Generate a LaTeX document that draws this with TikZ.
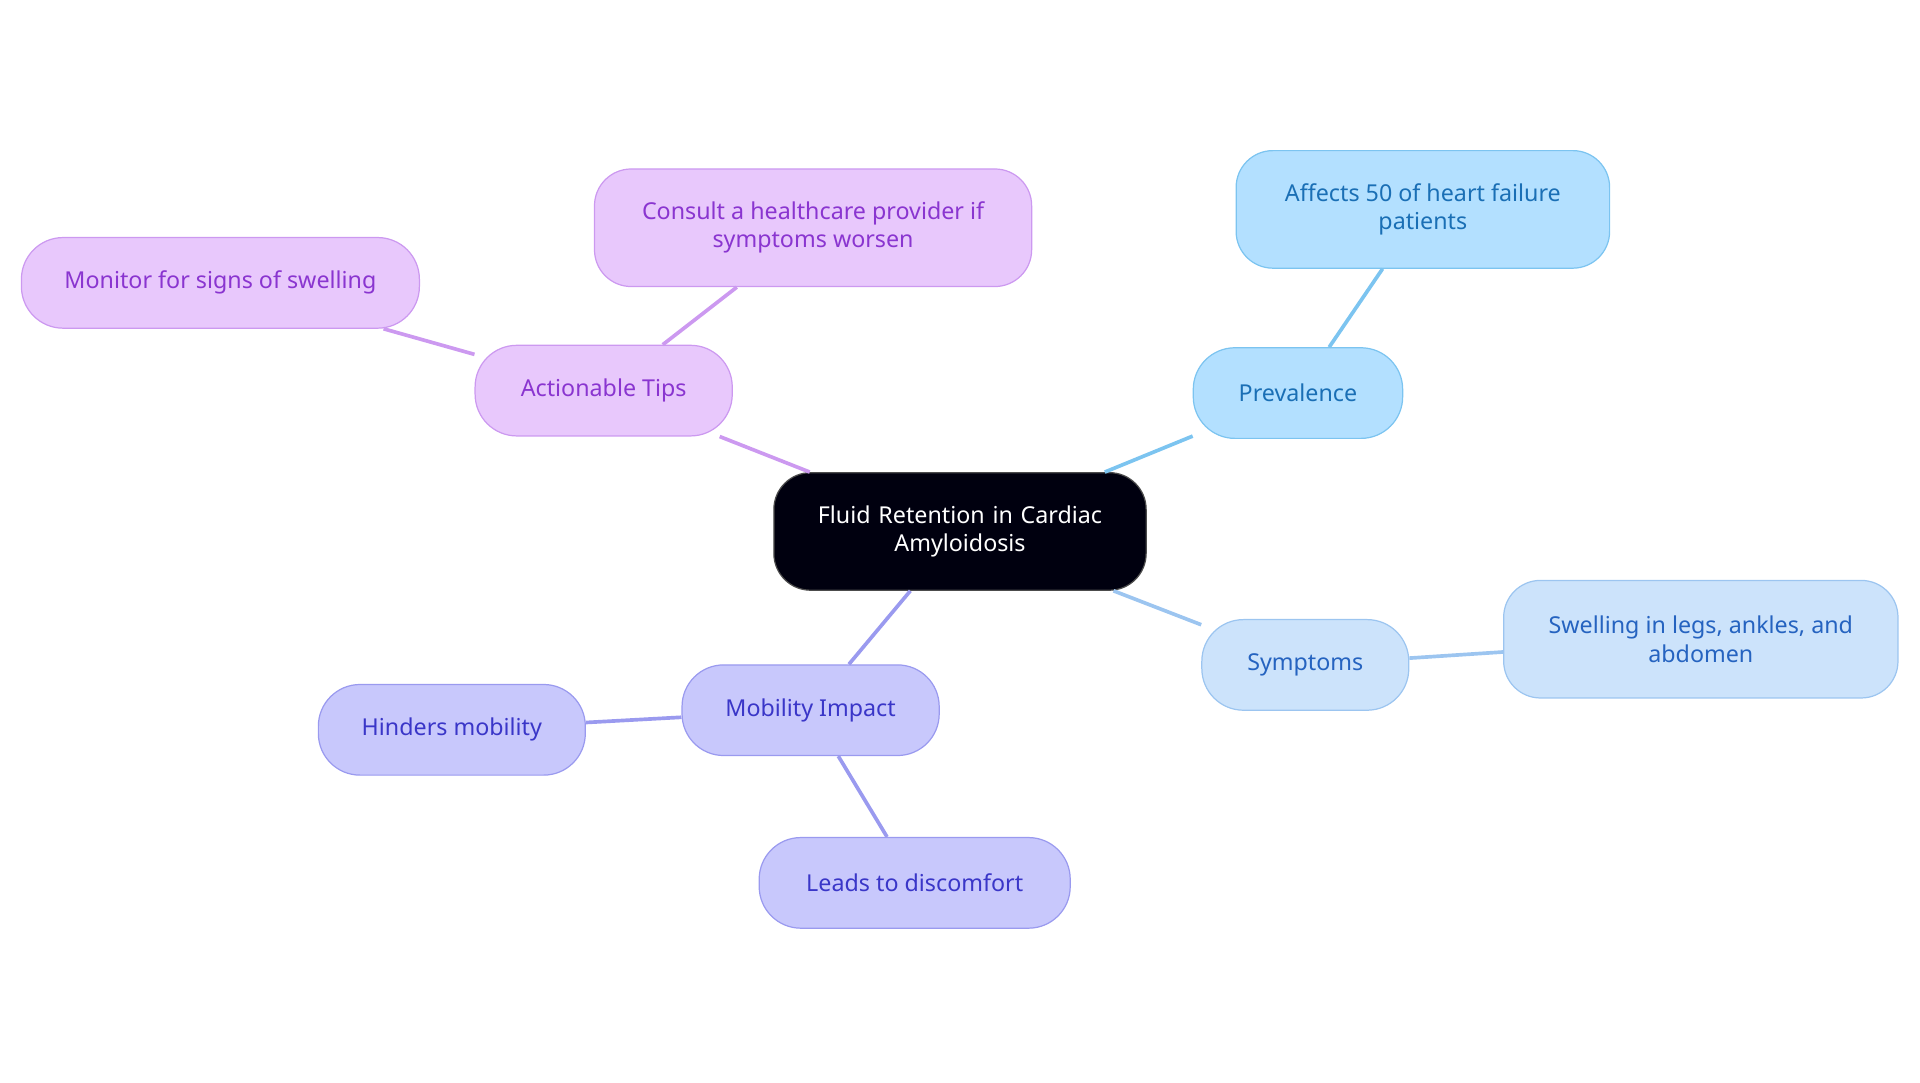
\documentclass[tikz,border=0pt]{standalone}
\usepackage{fontspec}
\setmainfont{Noto Sans}
\begin{document}
\begin{tikzpicture}[x=1pt,y=-1pt,
  base/.style={draw, line width=1pt, rounded corners=34pt, align=center, inner sep=0pt, font=\fontsize{19}{23}\selectfont},
  blu/.style={base, fill=blue1, draw=blue1d, text=blue1t},
  lbl/.style={base, fill=blue2, draw=blue2d, text=blue2t},
  ind/.style={base, fill=ind1, draw=ind1d, text=ind1t},
  vio/.style={base, fill=vio1, draw=vio1d, text=vio1t},
  ed/.style={line width=3pt}]
\definecolor{blue1}{HTML}{B3E0FF}\definecolor{blue1d}{HTML}{7CC4F0}\definecolor{blue1t}{HTML}{1A6FB5}
\definecolor{blue2}{HTML}{CCE3FB}\definecolor{blue2d}{HTML}{9CC5F0}\definecolor{blue2t}{HTML}{2563C0}
\definecolor{ind1}{HTML}{C8C8FC}\definecolor{ind1d}{HTML}{9A9AEF}\definecolor{ind1t}{HTML}{3A36C8}
\definecolor{vio1}{HTML}{E8C8FC}\definecolor{vio1d}{HTML}{CC99F0}\definecolor{vio1t}{HTML}{8A35D0}
\useasboundingbox (0,0) rectangle (1568,884);
\node[base, fill=black!90!blue!60!black, draw=gray!60!black, text=white, minimum width=304pt, minimum height=96pt, rounded corners=30pt, text width=280pt] (c) at (784,434) {Fluid Retention in Cardiac\\Amyloidosis};
\node[blu, minimum width=171pt, minimum height=74pt] (p) at (1060,321) {Prevalence};
\node[blu, minimum width=305pt, minimum height=96pt, rounded corners=30pt] (pa) at (1162,171) {Affects 50 of heart failure\\patients};
\node[lbl, minimum width=169pt, minimum height=74pt] (s) at (1066,543) {Symptoms};
\node[lbl, minimum width=322pt, minimum height=96pt, rounded corners=30pt] (sa) at (1389,522) {Swelling in legs, ankles, and\\abdomen};
\node[ind, minimum width=210pt, minimum height=74pt] (m) at (662,580) {Mobility Impact};
\node[ind, minimum width=218pt, minimum height=74pt] (mh) at (369,596) {Hinders mobility};
\node[ind, minimum width=254pt, minimum height=74pt] (ml) at (747,721) {Leads to discomfort};
\node[vio, minimum width=210pt, minimum height=74pt] (t) at (493,319) {Actionable Tips};
\node[vio, minimum width=325pt, minimum height=74pt] (tm) at (180,231) {Monitor for signs of swelling};
\node[vio, minimum width=357pt, minimum height=96pt, rounded corners=30pt] (tc) at (664,186) {Consult a healthcare provider if\\symptoms worsen};
\begin{scope}[on background layer/.style={}]
\end{scope}
\draw[ed, blue1d] (c) -- (p); \draw[ed, blue1d] (p) -- (pa);
\draw[ed, blue2d] (c) -- (s); \draw[ed, blue2d] (s) -- (sa);
\draw[ed, ind1d] (c) -- (m); \draw[ed, ind1d] (m) -- (mh); \draw[ed, ind1d] (m) -- (ml);
\draw[ed, vio1d] (c) -- (t); \draw[ed, vio1d] (t) -- (tm); \draw[ed, vio1d] (t) -- (tc);
\end{tikzpicture}
\end{document}
